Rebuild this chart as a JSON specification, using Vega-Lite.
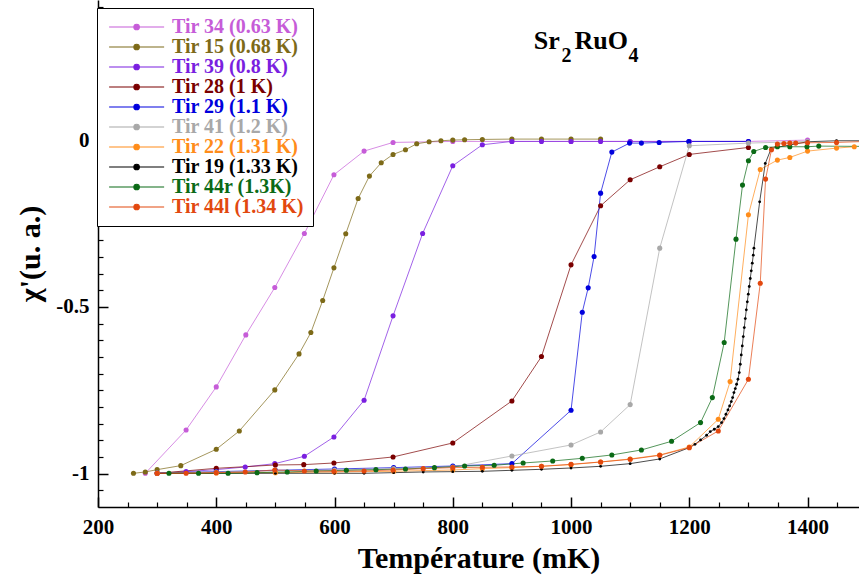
{
  "$schema": "https://vega.github.io/schema/vega-lite/v6.json",
  "width": 761,
  "height": 507,
  "autosize": {"type": "none"},
  "padding": {"left": 98, "top": 0, "right": 0, "bottom": 76},
  "background": "white",
  "config": {
    "font": "Liberation Serif",
    "view": {"stroke": null},
    "axis": {"grid": false, "domainColor": "black", "tickColor": "black", "labelColor": "black", "titleColor": "black", "labelFont": "Liberation Serif", "labelFontWeight": "bold", "titleFont": "Liberation Serif", "titleFontWeight": "bold"}
  },
  "datasets": {
    "curves": [
      {"s": "Tir 34 (0.63 K)", "T": 280, "v": -0.999},
      {"s": "Tir 34 (0.63 K)", "T": 349, "v": -0.869},
      {"s": "Tir 34 (0.63 K)", "T": 400, "v": -0.740},
      {"s": "Tir 34 (0.63 K)", "T": 450, "v": -0.584},
      {"s": "Tir 34 (0.63 K)", "T": 499, "v": -0.442},
      {"s": "Tir 34 (0.63 K)", "T": 549, "v": -0.280},
      {"s": "Tir 34 (0.63 K)", "T": 599, "v": -0.104},
      {"s": "Tir 34 (0.63 K)", "T": 650, "v": -0.033},
      {"s": "Tir 34 (0.63 K)", "T": 699, "v": -0.007},
      {"s": "Tir 34 (0.63 K)", "T": 800, "v": -0.004},
      {"s": "Tir 34 (0.63 K)", "T": 900, "v": -0.004},
      {"s": "Tir 34 (0.63 K)", "T": 1000, "v": -0.004},
      {"s": "Tir 34 (0.63 K)", "T": 1100, "v": -0.004},
      {"s": "Tir 34 (0.63 K)", "T": 1200, "v": -0.004},
      {"s": "Tir 34 (0.63 K)", "T": 1300, "v": -0.004},
      {"s": "Tir 34 (0.63 K)", "T": 1400, "v": 0.0},

      {"s": "Tir 15 (0.68 K)", "T": 260, "v": -0.999},
      {"s": "Tir 15 (0.68 K)", "T": 280, "v": -0.995},
      {"s": "Tir 15 (0.68 K)", "T": 300, "v": -0.988},
      {"s": "Tir 15 (0.68 K)", "T": 340, "v": -0.976},
      {"s": "Tir 15 (0.68 K)", "T": 400, "v": -0.927},
      {"s": "Tir 15 (0.68 K)", "T": 439, "v": -0.872},
      {"s": "Tir 15 (0.68 K)", "T": 499, "v": -0.749},
      {"s": "Tir 15 (0.68 K)", "T": 540, "v": -0.641},
      {"s": "Tir 15 (0.68 K)", "T": 560, "v": -0.577},
      {"s": "Tir 15 (0.68 K)", "T": 580, "v": -0.481},
      {"s": "Tir 15 (0.68 K)", "T": 599, "v": -0.383},
      {"s": "Tir 15 (0.68 K)", "T": 619, "v": -0.281},
      {"s": "Tir 15 (0.68 K)", "T": 640, "v": -0.175},
      {"s": "Tir 15 (0.68 K)", "T": 659, "v": -0.108},
      {"s": "Tir 15 (0.68 K)", "T": 679, "v": -0.068},
      {"s": "Tir 15 (0.68 K)", "T": 699, "v": -0.043},
      {"s": "Tir 15 (0.68 K)", "T": 720, "v": -0.029},
      {"s": "Tir 15 (0.68 K)", "T": 739, "v": -0.011},
      {"s": "Tir 15 (0.68 K)", "T": 760, "v": -0.005},
      {"s": "Tir 15 (0.68 K)", "T": 780, "v": -0.002},
      {"s": "Tir 15 (0.68 K)", "T": 800, "v": 0.0},
      {"s": "Tir 15 (0.68 K)", "T": 820, "v": 0.001},
      {"s": "Tir 15 (0.68 K)", "T": 850, "v": 0.002},
      {"s": "Tir 15 (0.68 K)", "T": 900, "v": 0.003},
      {"s": "Tir 15 (0.68 K)", "T": 950, "v": 0.003},
      {"s": "Tir 15 (0.68 K)", "T": 1000, "v": 0.003},
      {"s": "Tir 15 (0.68 K)", "T": 1050, "v": 0.003},

      {"s": "Tir 39 (0.8 K)", "T": 300, "v": -0.999},
      {"s": "Tir 39 (0.8 K)", "T": 349, "v": -0.994},
      {"s": "Tir 39 (0.8 K)", "T": 400, "v": -0.988},
      {"s": "Tir 39 (0.8 K)", "T": 449, "v": -0.980},
      {"s": "Tir 39 (0.8 K)", "T": 499, "v": -0.970},
      {"s": "Tir 39 (0.8 K)", "T": 549, "v": -0.948},
      {"s": "Tir 39 (0.8 K)", "T": 599, "v": -0.890},
      {"s": "Tir 39 (0.8 K)", "T": 650, "v": -0.780},
      {"s": "Tir 39 (0.8 K)", "T": 699, "v": -0.527},
      {"s": "Tir 39 (0.8 K)", "T": 749, "v": -0.280},
      {"s": "Tir 39 (0.8 K)", "T": 800, "v": -0.077},
      {"s": "Tir 39 (0.8 K)", "T": 850, "v": -0.014},
      {"s": "Tir 39 (0.8 K)", "T": 900, "v": -0.004},
      {"s": "Tir 39 (0.8 K)", "T": 950, "v": -0.004},
      {"s": "Tir 39 (0.8 K)", "T": 1000, "v": -0.004},
      {"s": "Tir 39 (0.8 K)", "T": 1050, "v": -0.004},
      {"s": "Tir 39 (0.8 K)", "T": 1100, "v": -0.004},
      {"s": "Tir 39 (0.8 K)", "T": 1200, "v": -0.004},
      {"s": "Tir 39 (0.8 K)", "T": 1300, "v": -0.004},

      {"s": "Tir 28 (1 K)", "T": 300, "v": -0.999},
      {"s": "Tir 28 (1 K)", "T": 400, "v": -0.984},
      {"s": "Tir 28 (1 K)", "T": 500, "v": -0.974},
      {"s": "Tir 28 (1 K)", "T": 548, "v": -0.973},
      {"s": "Tir 28 (1 K)", "T": 599, "v": -0.968},
      {"s": "Tir 28 (1 K)", "T": 699, "v": -0.950},
      {"s": "Tir 28 (1 K)", "T": 800, "v": -0.908},
      {"s": "Tir 28 (1 K)", "T": 900, "v": -0.782},
      {"s": "Tir 28 (1 K)", "T": 950, "v": -0.649},
      {"s": "Tir 28 (1 K)", "T": 1000, "v": -0.374},
      {"s": "Tir 28 (1 K)", "T": 1050, "v": -0.197},
      {"s": "Tir 28 (1 K)", "T": 1100, "v": -0.119},
      {"s": "Tir 28 (1 K)", "T": 1150, "v": -0.080},
      {"s": "Tir 28 (1 K)", "T": 1200, "v": -0.043},
      {"s": "Tir 28 (1 K)", "T": 1300, "v": -0.022},

      {"s": "Tir 29 (1.1 K)", "T": 300, "v": -0.998},
      {"s": "Tir 29 (1.1 K)", "T": 400, "v": -0.994},
      {"s": "Tir 29 (1.1 K)", "T": 500, "v": -0.990},
      {"s": "Tir 29 (1.1 K)", "T": 600, "v": -0.986},
      {"s": "Tir 29 (1.1 K)", "T": 700, "v": -0.982},
      {"s": "Tir 29 (1.1 K)", "T": 800, "v": -0.977},
      {"s": "Tir 29 (1.1 K)", "T": 900, "v": -0.970},
      {"s": "Tir 29 (1.1 K)", "T": 1000, "v": -0.810},
      {"s": "Tir 29 (1.1 K)", "T": 1019, "v": -0.516},
      {"s": "Tir 29 (1.1 K)", "T": 1029, "v": -0.443},
      {"s": "Tir 29 (1.1 K)", "T": 1039, "v": -0.349},
      {"s": "Tir 29 (1.1 K)", "T": 1050, "v": -0.159},
      {"s": "Tir 29 (1.1 K)", "T": 1069, "v": -0.036},
      {"s": "Tir 29 (1.1 K)", "T": 1099, "v": -0.009},
      {"s": "Tir 29 (1.1 K)", "T": 1119, "v": -0.009},
      {"s": "Tir 29 (1.1 K)", "T": 1149, "v": -0.007},
      {"s": "Tir 29 (1.1 K)", "T": 1199, "v": -0.004},
      {"s": "Tir 29 (1.1 K)", "T": 1300, "v": -0.004},

      {"s": "Tir 41 (1.2 K)", "T": 300, "v": -0.998},
      {"s": "Tir 41 (1.2 K)", "T": 400, "v": -0.995},
      {"s": "Tir 41 (1.2 K)", "T": 500, "v": -0.992},
      {"s": "Tir 41 (1.2 K)", "T": 600, "v": -0.989},
      {"s": "Tir 41 (1.2 K)", "T": 700, "v": -0.985},
      {"s": "Tir 41 (1.2 K)", "T": 800, "v": -0.980},
      {"s": "Tir 41 (1.2 K)", "T": 900, "v": -0.947},
      {"s": "Tir 41 (1.2 K)", "T": 1000, "v": -0.914},
      {"s": "Tir 41 (1.2 K)", "T": 1050, "v": -0.875},
      {"s": "Tir 41 (1.2 K)", "T": 1100, "v": -0.793},
      {"s": "Tir 41 (1.2 K)", "T": 1150, "v": -0.324},
      {"s": "Tir 41 (1.2 K)", "T": 1200, "v": -0.017},
      {"s": "Tir 41 (1.2 K)", "T": 1300, "v": -0.009},
      {"s": "Tir 41 (1.2 K)", "T": 1400, "v": -0.004},

      {"s": "Tir 22 (1.31 K)", "T": 300, "v": -0.999},
      {"s": "Tir 22 (1.31 K)", "T": 400, "v": -0.998},
      {"s": "Tir 22 (1.31 K)", "T": 500, "v": -0.997},
      {"s": "Tir 22 (1.31 K)", "T": 600, "v": -0.995},
      {"s": "Tir 22 (1.31 K)", "T": 700, "v": -0.993},
      {"s": "Tir 22 (1.31 K)", "T": 800, "v": -0.989},
      {"s": "Tir 22 (1.31 K)", "T": 850, "v": -0.985},
      {"s": "Tir 22 (1.31 K)", "T": 900, "v": -0.982},
      {"s": "Tir 22 (1.31 K)", "T": 950, "v": -0.978},
      {"s": "Tir 22 (1.31 K)", "T": 1000, "v": -0.973},
      {"s": "Tir 22 (1.31 K)", "T": 1050, "v": -0.965},
      {"s": "Tir 22 (1.31 K)", "T": 1100, "v": -0.956},
      {"s": "Tir 22 (1.31 K)", "T": 1150, "v": -0.944},
      {"s": "Tir 22 (1.31 K)", "T": 1200, "v": -0.920},
      {"s": "Tir 22 (1.31 K)", "T": 1249, "v": -0.837},
      {"s": "Tir 22 (1.31 K)", "T": 1269, "v": -0.724},
      {"s": "Tir 22 (1.31 K)", "T": 1300, "v": -0.224},
      {"s": "Tir 22 (1.31 K)", "T": 1320, "v": -0.088},
      {"s": "Tir 22 (1.31 K)", "T": 1349, "v": -0.060},
      {"s": "Tir 22 (1.31 K)", "T": 1370, "v": -0.052},
      {"s": "Tir 22 (1.31 K)", "T": 1400, "v": -0.033},
      {"s": "Tir 22 (1.31 K)", "T": 1449, "v": -0.024},
      {"s": "Tir 22 (1.31 K)", "T": 1479, "v": -0.020},

      {"s": "Tir 19 (1.33 K)", "T": 300, "v": -0.999},
      {"s": "Tir 19 (1.33 K)", "T": 400, "v": -0.999},
      {"s": "Tir 19 (1.33 K)", "T": 500, "v": -0.999},
      {"s": "Tir 19 (1.33 K)", "T": 600, "v": -0.999},
      {"s": "Tir 19 (1.33 K)", "T": 650, "v": -0.999},
      {"s": "Tir 19 (1.33 K)", "T": 700, "v": -0.997},
      {"s": "Tir 19 (1.33 K)", "T": 750, "v": -0.995},
      {"s": "Tir 19 (1.33 K)", "T": 800, "v": -0.994},
      {"s": "Tir 19 (1.33 K)", "T": 850, "v": -0.993},
      {"s": "Tir 19 (1.33 K)", "T": 900, "v": -0.990},
      {"s": "Tir 19 (1.33 K)", "T": 950, "v": -0.987},
      {"s": "Tir 19 (1.33 K)", "T": 1000, "v": -0.983},
      {"s": "Tir 19 (1.33 K)", "T": 1050, "v": -0.978},
      {"s": "Tir 19 (1.33 K)", "T": 1100, "v": -0.970},
      {"s": "Tir 19 (1.33 K)", "T": 1150, "v": -0.956},
      {"s": "Tir 19 (1.33 K)", "T": 1200, "v": -0.922},
      {"s": "Tir 19 (1.33 K)", "T": 1209.6, "v": -0.912},
      {"s": "Tir 19 (1.33 K)", "T": 1219.1, "v": -0.899},
      {"s": "Tir 19 (1.33 K)", "T": 1229.3, "v": -0.885},
      {"s": "Tir 19 (1.33 K)", "T": 1235.5, "v": -0.874},
      {"s": "Tir 19 (1.33 K)", "T": 1242.3, "v": -0.867},
      {"s": "Tir 19 (1.33 K)", "T": 1249, "v": -0.859},
      {"s": "Tir 19 (1.33 K)", "T": 1254.6, "v": -0.847},
      {"s": "Tir 19 (1.33 K)", "T": 1258.6, "v": -0.835},
      {"s": "Tir 19 (1.33 K)", "T": 1262, "v": -0.822},
      {"s": "Tir 19 (1.33 K)", "T": 1265.4, "v": -0.809},
      {"s": "Tir 19 (1.33 K)", "T": 1268.2, "v": -0.797},
      {"s": "Tir 19 (1.33 K)", "T": 1271, "v": -0.784},
      {"s": "Tir 19 (1.33 K)", "T": 1273.3, "v": -0.772},
      {"s": "Tir 19 (1.33 K)", "T": 1275.5, "v": -0.757},
      {"s": "Tir 19 (1.33 K)", "T": 1277.8, "v": -0.745},
      {"s": "Tir 19 (1.33 K)", "T": 1280, "v": -0.732},
      {"s": "Tir 19 (1.33 K)", "T": 1282.3, "v": -0.717},
      {"s": "Tir 19 (1.33 K)", "T": 1284.5, "v": -0.697},
      {"s": "Tir 19 (1.33 K)", "T": 1286.2, "v": -0.672},
      {"s": "Tir 19 (1.33 K)", "T": 1287.9, "v": -0.644},
      {"s": "Tir 19 (1.33 K)", "T": 1289.6, "v": -0.617},
      {"s": "Tir 19 (1.33 K)", "T": 1291.3, "v": -0.589},
      {"s": "Tir 19 (1.33 K)", "T": 1293, "v": -0.562},
      {"s": "Tir 19 (1.33 K)", "T": 1294.7, "v": -0.535},
      {"s": "Tir 19 (1.33 K)", "T": 1296.4, "v": -0.509},
      {"s": "Tir 19 (1.33 K)", "T": 1298.1, "v": -0.485},
      {"s": "Tir 19 (1.33 K)", "T": 1299.8, "v": -0.462},
      {"s": "Tir 19 (1.33 K)", "T": 1301.4, "v": -0.439},
      {"s": "Tir 19 (1.33 K)", "T": 1303.1, "v": -0.415},
      {"s": "Tir 19 (1.33 K)", "T": 1304.8, "v": -0.392},
      {"s": "Tir 19 (1.33 K)", "T": 1306.5, "v": -0.369},
      {"s": "Tir 19 (1.33 K)", "T": 1308.2, "v": -0.345},
      {"s": "Tir 19 (1.33 K)", "T": 1309.3, "v": -0.324},
      {"s": "Tir 19 (1.33 K)", "T": 1319, "v": -0.185},
      {"s": "Tir 19 (1.33 K)", "T": 1328.5, "v": -0.070},
      {"s": "Tir 19 (1.33 K)", "T": 1338.6, "v": -0.025},
      {"s": "Tir 19 (1.33 K)", "T": 1400, "v": -0.005},
      {"s": "Tir 19 (1.33 K)", "T": 1449, "v": -0.002},
      {"s": "Tir 19 (1.33 K)", "T": 1500, "v": -0.002},

      {"s": "Tir 44r (1.3K)", "T": 320, "v": -0.999},
      {"s": "Tir 44r (1.3K)", "T": 370, "v": -0.999},
      {"s": "Tir 44r (1.3K)", "T": 420, "v": -0.999},
      {"s": "Tir 44r (1.3K)", "T": 469, "v": -0.997},
      {"s": "Tir 44r (1.3K)", "T": 520, "v": -0.995},
      {"s": "Tir 44r (1.3K)", "T": 569, "v": -0.992},
      {"s": "Tir 44r (1.3K)", "T": 620, "v": -0.990},
      {"s": "Tir 44r (1.3K)", "T": 670, "v": -0.988},
      {"s": "Tir 44r (1.3K)", "T": 720, "v": -0.986},
      {"s": "Tir 44r (1.3K)", "T": 769, "v": -0.982},
      {"s": "Tir 44r (1.3K)", "T": 820, "v": -0.977},
      {"s": "Tir 44r (1.3K)", "T": 870, "v": -0.975},
      {"s": "Tir 44r (1.3K)", "T": 919, "v": -0.968},
      {"s": "Tir 44r (1.3K)", "T": 969, "v": -0.962},
      {"s": "Tir 44r (1.3K)", "T": 1019, "v": -0.954},
      {"s": "Tir 44r (1.3K)", "T": 1069, "v": -0.944},
      {"s": "Tir 44r (1.3K)", "T": 1119, "v": -0.929},
      {"s": "Tir 44r (1.3K)", "T": 1170, "v": -0.903},
      {"s": "Tir 44r (1.3K)", "T": 1219, "v": -0.847},
      {"s": "Tir 44r (1.3K)", "T": 1239, "v": -0.772},
      {"s": "Tir 44r (1.3K)", "T": 1259, "v": -0.607},
      {"s": "Tir 44r (1.3K)", "T": 1279, "v": -0.297},
      {"s": "Tir 44r (1.3K)", "T": 1290, "v": -0.135},
      {"s": "Tir 44r (1.3K)", "T": 1300, "v": -0.062},
      {"s": "Tir 44r (1.3K)", "T": 1309, "v": -0.034},
      {"s": "Tir 44r (1.3K)", "T": 1329, "v": -0.022},
      {"s": "Tir 44r (1.3K)", "T": 1349, "v": -0.020},
      {"s": "Tir 44r (1.3K)", "T": 1370, "v": -0.020},
      {"s": "Tir 44r (1.3K)", "T": 1399, "v": -0.020},
      {"s": "Tir 44r (1.3K)", "T": 1419, "v": -0.018},
      {"s": "Tir 44r (1.3K)", "T": 1500, "v": -0.019},

      {"s": "Tir 44l (1.34 K)", "T": 300, "v": -0.999},
      {"s": "Tir 44l (1.34 K)", "T": 349, "v": -0.999},
      {"s": "Tir 44l (1.34 K)", "T": 400, "v": -0.997},
      {"s": "Tir 44l (1.34 K)", "T": 449, "v": -0.995},
      {"s": "Tir 44l (1.34 K)", "T": 499, "v": -0.989},
      {"s": "Tir 44l (1.34 K)", "T": 549, "v": -0.992},
      {"s": "Tir 44l (1.34 K)", "T": 599, "v": -0.993},
      {"s": "Tir 44l (1.34 K)", "T": 650, "v": -0.992},
      {"s": "Tir 44l (1.34 K)", "T": 699, "v": -0.989},
      {"s": "Tir 44l (1.34 K)", "T": 750, "v": -0.985},
      {"s": "Tir 44l (1.34 K)", "T": 800, "v": -0.982},
      {"s": "Tir 44l (1.34 K)", "T": 850, "v": -0.981},
      {"s": "Tir 44l (1.34 K)", "T": 900, "v": -0.980},
      {"s": "Tir 44l (1.34 K)", "T": 950, "v": -0.978},
      {"s": "Tir 44l (1.34 K)", "T": 1000, "v": -0.972},
      {"s": "Tir 44l (1.34 K)", "T": 1050, "v": -0.965},
      {"s": "Tir 44l (1.34 K)", "T": 1100, "v": -0.957},
      {"s": "Tir 44l (1.34 K)", "T": 1150, "v": -0.945},
      {"s": "Tir 44l (1.34 K)", "T": 1200, "v": -0.922},
      {"s": "Tir 44l (1.34 K)", "T": 1249, "v": -0.872},
      {"s": "Tir 44l (1.34 K)", "T": 1300, "v": -0.717},
      {"s": "Tir 44l (1.34 K)", "T": 1320, "v": -0.429},
      {"s": "Tir 44l (1.34 K)", "T": 1329, "v": -0.117},
      {"s": "Tir 44l (1.34 K)", "T": 1339, "v": -0.029},
      {"s": "Tir 44l (1.34 K)", "T": 1349, "v": -0.012},
      {"s": "Tir 44l (1.34 K)", "T": 1360, "v": -0.010},
      {"s": "Tir 44l (1.34 K)", "T": 1370, "v": -0.009},
      {"s": "Tir 44l (1.34 K)", "T": 1380, "v": -0.009},
      {"s": "Tir 44l (1.34 K)", "T": 1400, "v": -0.008},
      {"s": "Tir 44l (1.34 K)", "T": 1449, "v": -0.007},
      {"s": "Tir 44l (1.34 K)", "T": 1500, "v": -0.004}
    ],
    "formula": [
      {"T": 937, "v": 0.273, "label": "Sr"},
      {"T": 1006, "v": 0.273, "label": "RuO"}
    ],
    "subscripts": [
      {"T": 984, "v": 0.233, "label": "2"},
      {"T": 1097, "v": 0.233, "label": "4"}
    ]
  },
  "layer": [
    {
      "data": {"name": "curves"},
      "mark": {"type": "line", "strokeWidth": 1, "opacity": 0.7, "clip": true},
      "encoding": {
        "x": {"field": "T", "type": "quantitative", "scale": {"domain": [200, 1487], "nice": false, "zero": false},
          "axis": {"title": "Température (mK)", "values": [200, 400, 600, 800, 1000, 1200, 1400], "labelExpr": "toString(datum.value)", "tickSize": -10, "tickWidth": 1.5, "domainWidth": 1.5, "labelFontSize": 21, "labelPadding": 19, "labelFlush": false, "labelOverlap": false, "titleFontSize": 30, "titlePadding": 6}},
        "y": {"field": "v", "type": "quantitative", "scale": {"domain": [-1.1, 0.42], "nice": false, "zero": false},
          "axis": {"title": "χ'(u. a.)", "values": [-1, -0.5, 0], "labelExpr": "toString(datum.value)", "tickSize": -10, "tickWidth": 1.5, "domainWidth": 1.5, "labelFontSize": 21, "labelPadding": 19, "labelFlush": false, "labelOverlap": false, "titleFontSize": 30, "titlePadding": 10}},
        "color": {"field": "s", "type": "nominal",
          "scale": {"domain": ["Tir 34 (0.63 K)", "Tir 15 (0.68 K)", "Tir 39 (0.8 K)", "Tir 28 (1 K)", "Tir 29 (1.1 K)", "Tir 41 (1.2 K)", "Tir 22 (1.31 K)", "Tir 19 (1.33 K)", "Tir 44r (1.3K)", "Tir 44l (1.34 K)"],
                    "range": ["#C65CD8", "#7D6A18", "#7A1FE0", "#7A0000", "#0000DD", "#A8A8A8", "#FF8C1A", "#000000", "#0B6A16", "#E2480F"]},
          "legend": {"orient": "none", "legendX": -1, "legendY": 8, "title": null, "fillColor": "white", "strokeColor": "black", "padding": 9,
            "labelFont": "Liberation Serif", "labelFontWeight": "bold", "labelFontSize": 20, "labelOffset": 46, "rowPadding": 0,
            "labelColor": {"expr": "scale('color', datum.value)"},
            "symbolType": "M-1.25,0L8.75,0M3.25,0A0.5,0.5,0,1,0,4.25,0A0.5,0.5,0,1,0,3.25,0Z", "symbolSize": 121, "symbolStrokeWidth": 1.2,
            "symbolFillColor": {"expr": "scale('color', datum.value)"},
            "symbolStrokeColor": {"expr": "scale('color', datum.value)"},
            "symbolOpacity": 1}}
      }
    },
    {
      "data": {"name": "curves"},
      "mark": {"type": "point", "filled": true, "opacity": 1, "clip": true},
      "encoding": {
        "x": {"field": "T", "type": "quantitative",
          "axis": {"orient": "bottom", "title": null, "labels": false, "domain": false, "tickSize": -5, "tickWidth": 1.2, "values": [250, 300, 350, 450, 500, 550, 650, 700, 750, 850, 900, 950, 1050, 1100, 1150, 1250, 1300, 1350, 1450]}},
        "y": {"field": "v", "type": "quantitative",
          "axis": {"orient": "left", "title": null, "labels": false, "domain": false, "tickSize": -5, "tickWidth": 1.2, "values": [-1.05, -0.95, -0.9, -0.85, -0.8, -0.75, -0.7, -0.65, -0.6, -0.55, -0.45, -0.4, -0.35, -0.3, -0.25, -0.2, -0.15, -0.1, -0.05, 0.05, 0.1, 0.15, 0.2, 0.25, 0.3, 0.35, 0.4]}},
        "color": {"field": "s", "type": "nominal"},
        "size": {"condition": {"test": "datum.s === 'Tir 19 (1.33 K)'", "value": 8}, "value": 26}
      }
    },
    {
      "data": {"name": "formula"},
      "mark": {"type": "text", "font": "Liberation Serif", "fontWeight": "bold", "fontSize": 26, "align": "left", "baseline": "alphabetic", "color": "black"},
      "encoding": {
        "x": {"field": "T", "type": "quantitative", "axis": null},
        "y": {"field": "v", "type": "quantitative", "axis": null},
        "text": {"field": "label"}
      }
    },
    {
      "data": {"name": "subscripts"},
      "mark": {"type": "text", "font": "Liberation Serif", "fontWeight": "bold", "fontSize": 20, "align": "left", "baseline": "alphabetic", "color": "black"},
      "encoding": {
        "x": {"field": "T", "type": "quantitative", "axis": null},
        "y": {"field": "v", "type": "quantitative", "axis": null},
        "text": {"field": "label"}
      }
    }
  ],
  "resolve": {"axis": {"x": "independent", "y": "independent"}}
}
